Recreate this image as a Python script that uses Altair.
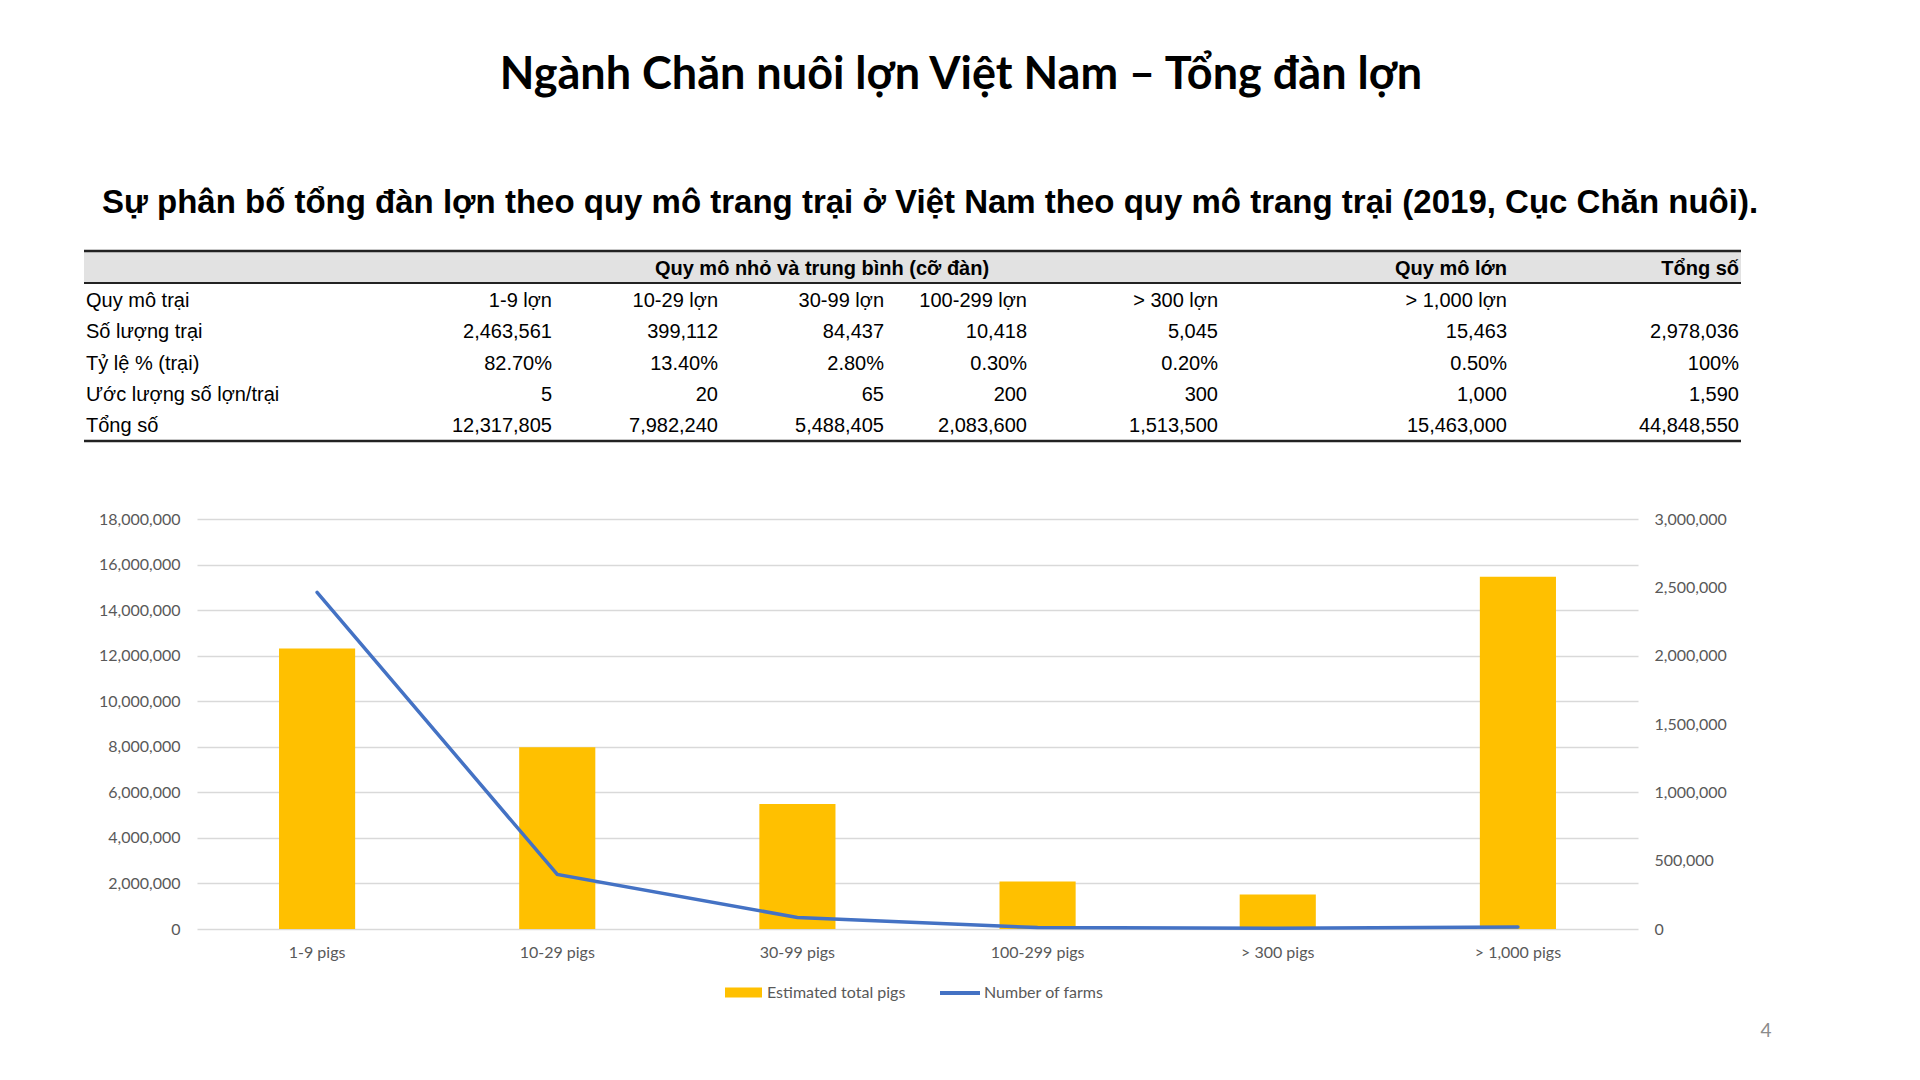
import altair as alt
import pandas as pd

# ---------------- data ----------------
categories = ["1-9 pigs", "10-29 pigs", "30-99 pigs", "100-299 pigs", "> 300 pigs", "> 1,000 pigs"]
total_pigs = [12317805, 7982240, 5488405, 2083600, 1513500, 15463000]
num_farms = [2463561, 399112, 84437, 10418, 5045, 15463]
left_ticks = [0, 2000000, 4000000, 6000000, 8000000, 10000000, 12000000, 14000000, 16000000, 18000000]
right_ticks = [0, 500000, 1000000, 1500000, 2000000, 2500000, 3000000]

table_cols = ["1-9 lợn", "10-29 lợn", "30-99 lợn", "100-299 lợn", "> 300 lợn", "> 1,000 lợn", ""]
row_labels = ["Quy mô trại", "Số lượng trại", "Tỷ lệ % (trại)", "Ước lượng số lợn/trại", "Tổng số"]
farms_row = [2463561, 399112, 84437, 10418, 5045, 15463, 2978036]
share_row = ["82.70%", "13.40%", "2.80%", "0.30%", "0.20%", "0.50%", "100%"]
per_farm_row = [5, 20, 65, 200, 300, 1000, 1590]
total_row = [12317805, 7982240, 5488405, 2083600, 1513500, 15463000, 44848550]
header_groups = ["Quy mô nhỏ và trung bình (cỡ đàn)", "Quy mô lớn", "Tổng số"]

title_text = "Ngành Chăn nuôi lợn Việt Nam – Tổng đàn lợn"
subtitle_text = "Sự phân bố tổng đàn lợn theo quy mô trang trại ở Việt Nam theo quy mô trang trại (2019, Cục Chăn nuôi)."
page_number = "4"

# ---------------- layout / style ----------------
W, H = 1441, 410
PAD = {"left": 197, "top": 519, "right": 1920 - 197 - W, "bottom": 1080 - 519 - H}
CFONT = "Lato"
TFONT = "Liberation Sans"
GRAY = "#595959"
FMT = "format(datum.value, ',')"

df = pd.DataFrame({
    "cat": categories,
    "pigs": total_pigs,
    "farms": num_farms,
    "s1": "Estimated total pigs",
    "s2": "Number of farms",
})

rows = []
for c in range(len(table_cols)):
    vals = [table_cols[c], f"{farms_row[c]:,}", share_row[c], f"{per_farm_row[c]:,}", f"{total_row[c]:,}"]
    for r, v in enumerate(vals):
        rows.append({"col": c, "row": r, "txt": v})
cells_df = pd.DataFrame(rows)
labels_df = pd.DataFrame({"row": list(range(len(row_labels))), "txt": row_labels})

xenc = alt.X(
    "cat:N", sort=categories,
    scale=alt.Scale(paddingInner=0.683, paddingOuter=0.3415),
    axis=alt.Axis(title=None, labelAngle=0, domain=False, ticks=False, labelPadding=15,
                  labelFont=CFONT, labelFontSize=16, labelColor=GRAY),
)

bars = alt.Chart(df).mark_bar().encode(
    x=xenc,
    y=alt.Y("pigs:Q", scale=alt.Scale(domain=[0, 18000000], nice=False),
            axis=alt.Axis(orient="left", values=left_ticks, labelExpr=FMT, title=None, domain=False,
                          ticks=False, labelPadding=17, grid=True, gridColor="#D9D9D9", gridWidth=1.3,
                          labelFont=CFONT, labelFontSize=16, labelColor=GRAY)),
    fill=alt.Fill("s1:N", scale=alt.Scale(domain=["Estimated total pigs"], range=["#FFC000"]),
                  legend=alt.Legend(orient="none", legendX=528, legendY=455, title=None,
                                    symbolType="M-1,-0.27H1V0.27H-1Z", symbolSize=1369,
                                    symbolStrokeWidth=0, symbolOpacity=1, labelOffset=5, padding=0,
                                    labelFont=CFONT, labelFontSize=16, labelColor=GRAY)),
)

line = alt.Chart(df).mark_line(strokeWidth=3.5, strokeCap="round").encode(
    x=xenc,
    y=alt.Y("farms:Q", scale=alt.Scale(domain=[0, 3000000], nice=False),
            axis=alt.Axis(orient="right", values=right_ticks, labelExpr=FMT, title=None, domain=False,
                          ticks=False, grid=False, labelPadding=16,
                          labelFont=CFONT, labelFontSize=16, labelColor=GRAY)),
    stroke=alt.Stroke("s2:N", scale=alt.Scale(domain=["Number of farms"], range=["#4472C4"]),
                      legend=alt.Legend(orient="none", legendX=741, legendY=452, title=None,
                                        symbolType="stroke", symbolSize=1600, symbolStrokeWidth=4,
                                        labelOffset=2, padding=0,
                                        labelFont=CFONT, labelFontSize=16, labelColor=GRAY)),
)

combo = alt.layer(bars, line).resolve_scale(y="independent")

# table
col_range = [355, 521, 687, 830, 1021, 1310, 1542]
row_scale = alt.Scale(domain=[0, 4], range=[-218, -93], nice=False, zero=False)

cells = alt.Chart(cells_df).mark_text(align="right", baseline="middle", font=TFONT, fontSize=20,
                                      color="#000000").encode(
    x=alt.X("col:Q", scale=alt.Scale(domain=list(range(7)), range=col_range, nice=False, zero=False), axis=None),
    y=alt.Y("row:Q", scale=row_scale, axis=None),
    text="txt:N",
)
row_lab = alt.Chart(labels_df).mark_text(align="left", baseline="middle", font=TFONT, fontSize=20,
                                         color="#000000").encode(
    x=alt.value(-111),
    y=alt.Y("row:Q", scale=row_scale, axis=None),
    text="txt:N",
)

one = pd.DataFrame({"a": [0]})
hdr_band = alt.Chart(one).mark_rect(color="#E2E2E2").encode(
    x=alt.value(-113), x2=alt.value(1544), y=alt.value(-267), y2=alt.value(-236))
top_rule = alt.Chart(one).mark_rule(color="#222222", strokeWidth=2.5).encode(
    x=alt.value(-113), x2=alt.value(1544), y=alt.value(-268))
mid_rule = alt.Chart(one).mark_rule(color="#222222", strokeWidth=2).encode(
    x=alt.value(-113), x2=alt.value(1544), y=alt.value(-236))
bot_rule = alt.Chart(one).mark_rule(color="#222222", strokeWidth=2.5).encode(
    x=alt.value(-113), x2=alt.value(1544), y=alt.value(-78))

def htext(txt, x, align):
    return alt.Chart(pd.DataFrame({"t": [txt]})).mark_text(
        align=align, baseline="middle", font=TFONT, fontSize=20, fontWeight="bold", color="#000000"
    ).encode(x=alt.value(x), y=alt.value(-250), text="t:N")

h1 = htext(header_groups[0], 625, "center")
h2 = htext(header_groups[1], 1310, "right")
h3 = htext(header_groups[2], 1542, "right")

title = alt.Chart(pd.DataFrame({"t": [title_text]})).mark_text(
    align="center", baseline="middle", font=CFONT, fontSize=45, fontWeight="bold", color="#000000"
).encode(x=alt.value(764), y=alt.value(-444), text="t:N")
subtitle = alt.Chart(pd.DataFrame({"t": [subtitle_text]})).mark_text(
    align="center", baseline="middle", font=TFONT, fontSize=33, fontWeight="bold", color="#000000"
).encode(x=alt.value(733), y=alt.value(-316), text="t:N")
page = alt.Chart(pd.DataFrame({"t": [page_number]})).mark_text(
    align="center", baseline="middle", font=CFONT, fontSize=19, color="#8B8B8B"
).encode(x=alt.value(1569), y=alt.value(512), text="t:N")

chart = alt.layer(
    hdr_band, top_rule, mid_rule, bot_rule, combo, cells, row_lab, h1, h2, h3, title, subtitle, page
).resolve_scale(x="independent", y="independent").properties(
    width=W, height=H, autosize=alt.AutoSizeParams(type="none"), padding=PAD, background="white"
).configure_view(stroke=None)

chart.save("out.html", embed_options={"renderer": "svg", "actions": False})
